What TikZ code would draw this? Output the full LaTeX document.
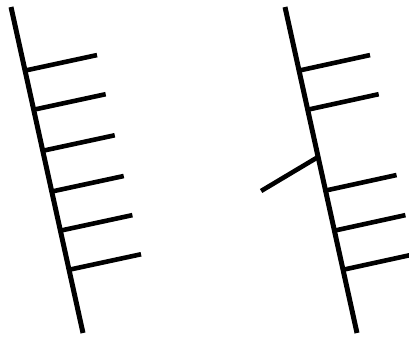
\documentclass[tikz,border=0pt]{standalone}
\usepackage{tikz}
\usetikzlibrary{calc}
\tikzset{spine/.style={line width=5pt},
  rung/.style={line width=4.6pt}}

\begin{document}
\begin{tikzpicture}[x=1pt, y=-1pt]
  \useasboundingbox (0,0) rectangle (409,338);

  % Left: complete ladder
  \coordinate (ltop) at (11,7);
  \coordinate (lbot) at (83,333);
  \draw[spine] (ltop) -- (lbot);
  \foreach \t [count=\i] in {0.195,0.315,0.441,0.566,0.686,0.806}
    \draw[rung] ($(ltop)!\t!(lbot)$) coordinate (lr\i) -- ++(72,-15.5);

  % Right: one rung turned the other way
  \coordinate (rtop) at (285,7);
  \coordinate (rbot) at (357,333);
  \draw[spine] (rtop) -- (rbot);
  \foreach \t [count=\i] in {0.195,0.315,0.563,0.686,0.806}
    \draw[rung] ($(rtop)!\t!(rbot)$) coordinate (rr\i) -- ++(71,-15.5);

  % The odd one
  \coordinate (rodd) at ($(rtop)!0.46!(rbot)$);
  \draw[rung] (rodd) -- ++(-57,34);
\end{tikzpicture}
\end{document}
